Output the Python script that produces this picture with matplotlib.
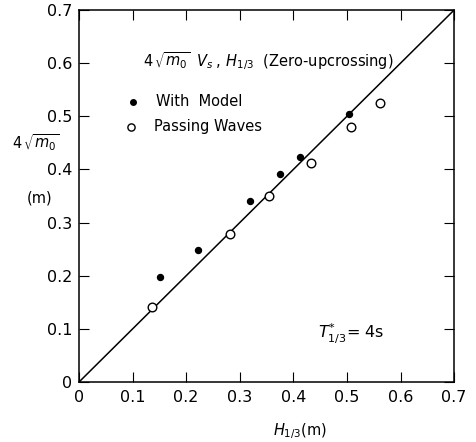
import matplotlib
matplotlib.use('Agg')
import matplotlib.pyplot as plt
import numpy as np

plt.rcParams['font.family'] = ['DejaVu Sans']
plt.rcParams['mathtext.fontset'] = 'dejavusans'

# 數據 With Model (實心)
model_h = [0.151, 0.2215, 0.320, 0.376, 0.4125, 0.503]
model_m = [0.198, 0.249, 0.341, 0.392, 0.424, 0.505]
# Passing Waves (空心)
pass_h = [0.137, 0.2825, 0.355, 0.433, 0.507, 0.562]
pass_m = [0.141, 0.278, 0.350, 0.412, 0.479, 0.525]

ticks = [0, 0.1, 0.2, 0.3, 0.4, 0.5, 0.6, 0.7]
tick_labels = ['0', '0.1', '0.2', '0.3', '0.4', '0.5', '0.6', '0.7']

fig = plt.figure(figsize=(4.76, 4.42), dpi=100)
ax = fig.add_axes([0.166, 0.1357, 0.788, 0.8416])
ax.set_xlim(0, 0.7)
ax.set_ylim(0, 0.7)

# 對角線 y = x
ax.plot([0, 0.7], [0, 0.7], color='black', linewidth=1.1)

ax.plot(model_h, model_m, 'o', color='black', markersize=4.3, zorder=3)
ax.plot(pass_h, pass_m, 'o', markerfacecolor='white', markeredgecolor='black',
        markersize=6.2, markeredgewidth=1.0, zorder=3)

ax.set_xticks(ticks)
ax.set_yticks(ticks)
ax.set_xticklabels(tick_labels, fontsize=11.5)
ax.set_yticklabels(tick_labels, fontsize=11.5)
ax.tick_params(direction='in', length=7.5, width=0.8, top=True, right=True)
ax.tick_params(axis='y', pad=5)
ax.tick_params(axis='x', pad=6)
for s in ax.spines.values():
    s.set_linewidth(1.1)

# 圖內文字
ax.text(0.1195, 0.603, r'$4\,\sqrt{m_0}\;\; V_s\;,\, H_{1/3}$  (Zero-upcrossing)',
        fontsize=10.5, va='center', ha='left')
ax.plot([0.101], [0.527], 'o', color='black', markersize=4.0)
ax.text(0.1437, 0.527, 'With  Model', fontsize=10.5, va='center', ha='left')
ax.plot([0.097], [0.480], 'o', markerfacecolor='white', markeredgecolor='black',
        markersize=5.2, markeredgewidth=1.0)
ax.text(0.14, 0.480, 'Passing Waves', fontsize=10.5, va='center', ha='left')
ax.text(0.446, 0.09, r'$T^{*}_{1/3}$= 4s', fontsize=11.5, va='center', ha='left')

# 軸標題
fig.text(0.0756, 0.676, r'$4\,\sqrt{m_0}$', fontsize=10.5, ha='center', va='center')
fig.text(0.084, 0.552, '(m)', fontsize=10.5, ha='center', va='center')
fig.text(0.630, 0.025, r'$H_{1/3}$(m)', fontsize=10.5, ha='center', va='center')

fig.savefig('out.png', dpi=100)
